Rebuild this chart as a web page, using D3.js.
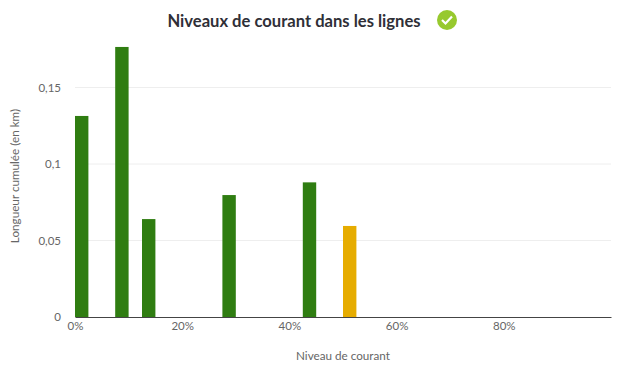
<!DOCTYPE html>
<html>
<head>
<meta charset="utf-8">
<script src="https://cdn.jsdelivr.net/npm/d3@7"></script>
<style>
  html, body { margin: 0; background: #fff; }
  text { font-family: Lato, "Open Sans", sans-serif; }
  .tick text { font-size: 11.5px; fill: #666; }
</style>
</head>
<body>
<div id="chart"></div>
<script>
const levels = [0, 7.5, 12.5, 27.5, 42.5, 50];
const lengths = [0.1314, 0.1765, 0.064, 0.0797, 0.088, 0.0595];
const barColors = ["#2f7d11", "#2f7d11", "#2f7d11", "#2f7d11", "#2f7d11", "#e6ac00"];
const xTicks = [0, 20, 40, 60, 80];
const yTicks = [0, 0.05, 0.1, 0.15];
const yTickLabels = ["0", "0,05", "0,1", "0,15"];
const binWidth = 2.5;

const width = 626, height = 373;
const margin = {top: 11, right: 15, bottom: 56, left: 75};

const svg = d3.select("#chart").append("svg")
  .attr("width", width)
  .attr("height", height)
  .style("display", "block");

const x = d3.scaleLinear().domain([0, 100]).range([margin.left, width - margin.right]);
const y = d3.scaleLinear().domain([0, 0.2]).range([height - margin.bottom, margin.top]);

// grid first, so bars sit on top
svg.append("g")
  .selectAll("line")
  .data(yTicks.filter(d => d > 0))
  .join("line")
  .attr("x1", x(0))
  .attr("x2", x(100))
  .attr("y1", d => y(d))
  .attr("y2", d => y(d))
  .attr("stroke", "#eeeeee");

svg.selectAll("rect.bar")
  .data(levels)
  .join("rect")
  .attr("class", "bar")
  .attr("x", d => x(d))
  .attr("width", d => x(d + binWidth) - x(d))
  .attr("y", (d, i) => y(lengths[i]))
  .attr("height", (d, i) => y(0) - y(lengths[i]))
  .attr("fill", (d, i) => barColors[i]);

const xAxis = svg.append("g")
  .attr("transform", `translate(0,${y(0)})`)
  .call(d3.axisBottom(x).tickValues(xTicks).tickFormat(d => d + "%").tickSize(0).tickPadding(5));
xAxis.select(".domain").attr("stroke", "#444").attr("stroke-width", 1);

const yAxis = svg.append("g")
  .attr("transform", `translate(${margin.left},0)`)
  .call(d3.axisLeft(y).tickValues(yTicks).tickFormat((d, i) => yTickLabels[i]).tickSize(0).tickPadding(14));
yAxis.select(".domain").remove();

svg.append("text")
  .attr("x", 343)
  .attr("y", 360)
  .attr("text-anchor", "middle")
  .attr("font-size", 11.7)
  .attr("fill", "#666")
  .text("Niveau de courant");

svg.append("text")
  .attr("transform", "translate(19,176) rotate(-90)")
  .attr("text-anchor", "middle")
  .attr("font-size", 11.7)
  .attr("fill", "#666")
  .text("Longueur cumulée (en km)");

svg.append("text")
  .attr("x", 294)
  .attr("y", 27)
  .attr("text-anchor", "middle")
  .attr("font-size", 16.6)
  .attr("font-weight", 700)
  .attr("fill", "#2f2f37")
  .text("Niveaux de courant dans les lignes");

// check icon next to the title
const icon = svg.append("g").attr("transform", "translate(447,20)");
icon.append("circle").attr("r", 10).attr("fill", "#97c92e");
icon.append("path")
  .attr("d", d3.line()([[-5, 0], [-1.5, 3.5], [5, -3.5]]))
  .attr("fill", "none")
  .attr("stroke", "#fff")
  .attr("stroke-width", 2.2);
</script>
</body>
</html>
